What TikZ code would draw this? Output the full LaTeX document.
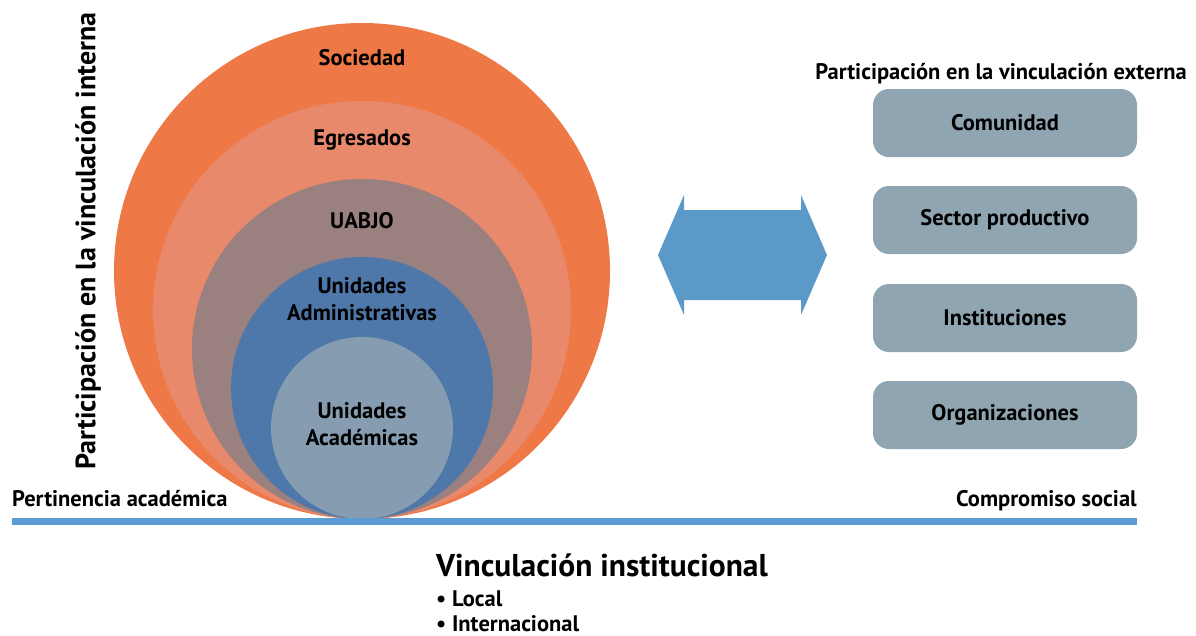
\documentclass[tikz,border=0pt]{standalone}
\usepackage{fontspec}
\setmainfont{PT Sans}
\usepackage{xcolor}
\usetikzlibrary{positioning}

\definecolor{sociedad}{HTML}{EE7946}
\definecolor{egresados}{HTML}{E8896B}
\definecolor{uabjo}{HTML}{9A807E}
\definecolor{admin}{HTML}{4E77AA}
\definecolor{academicas}{HTML}{869CB1}
\definecolor{cajagris}{HTML}{8FA5B1}
\definecolor{flecha}{HTML}{5B99C8}
\definecolor{linea}{HTML}{5D9CD2}

\begin{document}
\begin{tikzpicture}[x=1pt,y=-1pt,
		lbl/.style={font=\bfseries\fontsize{22.5}{26.5}\selectfont, align=center, text=black, inner sep=0pt},
		caja/.style={lbl, fill=cajagris, rounded corners=16pt, minimum width=264pt, minimum height=68pt}]
		\useasboundingbox (0,0) rectangle (1196,635);
		\def\X{362};
		\def\T{519};
		
		\coordinate (tope) at (\X,\T);
		
		\foreach \r/\c in {248/sociedad, 209/egresados, 170/uabjo, 131/admin, 91/academicas}
		\fill[\c] (\X,\T-\r) circle [radius = \r pt];
		
		\node[lbl] (soc) at (\X,58) {Sociedad};
		\node[lbl] (egr) at (\X,140) {Egresados};
		\node[lbl] (uab) at (\X,221) {UABJO};
		\node[lbl] (adm) at (\X,299) {Unidades\\Administrativas};
		\node[lbl] (aca) at (\X,424) {Unidades\\Académicas};
		
		\node[lbl, font=\bfseries\fontsize{28}{32}\selectfont, rotate=90] (interna) at (88,241) {Participación en la vinculación interna};
		
		% flecha doble
		\fill[flecha] (658,255) -- (684,195) -- (684,210) -- (801,210) -- (801,195) -- (827,255)
		-- (801,315) -- (801,300) -- (684,300) -- (684,315) -- cycle;
		
		\node[lbl, anchor=base east] (externa) at (1187,79) {Participación en la vinculación externa};
		\node[caja] (com) at (1005,123) {Comunidad};
		\node[caja] (sec) at (1005,220) {Sector productivo};
		\node[caja] (ins) at (1005,318) {Instituciones};
		\node[caja] (org) at (1005,415) {Organizaciones};
		
		\coordinate (izq) at (12,521);
		\coordinate (der) at (1137,521);
		\draw[linea, line width=7pt] (izq) -- (der);
		
		\node[lbl, anchor=base west] (pert) at (izq |- 0,506) {Pertinencia académica};
		\node[lbl, anchor=base east] (comp) at (der |- 0,506) {Compromiso social};
		
		\node[lbl, font=\bfseries\fontsize{31.5}{36}\selectfont, anchor=west] (vinc) at (436,565) {Vinculación institucional};
		\node[lbl, anchor=base west] (loc) at (436,606) {\textbullet\ Local};
		\node[lbl, anchor=base west] (int) at (436,631) {\textbullet\ Internacional};
	\end{tikzpicture}
\end{document}
